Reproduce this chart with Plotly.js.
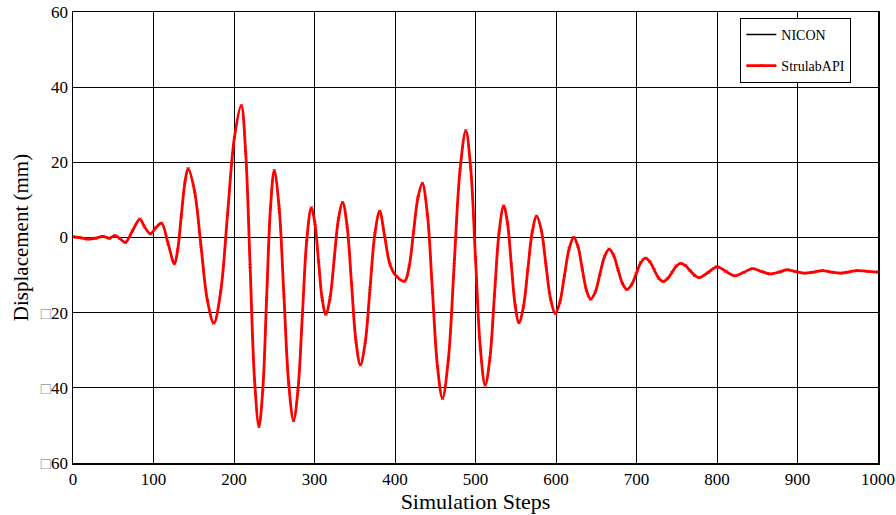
<!DOCTYPE html>
<html>
<head>
<meta charset="utf-8">
<script src="https://cdn.plot.ly/plotly-3.0.1.min.js"></script>
<style>html,body{margin:0;padding:0;background:#fff;}#chart{width:896px;height:515px;}</style>
</head>
<body>
<div id="chart"></div>
<script>
// Simulation step positions
const steps = [
  0,8,18,28,37,45,52,58,65,74,83,89,96,103,110,118,
  126,130,134.5,139,143,151,159,167,175,183.5,192,200.5,
  209,214.5,220,225.5,231,235.8,240.5,245.3,250,256,262,268,
  274,279.5,285,290.5,296,300.5,305,309.5,314,319.3,324.5,329.8,
  335,340.5,346,351.5,357,363,369,375,381,387,394,402,412,
  417.5,423,428.5,434,440.3,446.5,452.8,459,466.3,473.5,480.8,
  488,494,500,506,512,517.8,523.5,529.3,535,539.8,544.5,549.3,
  554,559.5,565,570.5,576,581.8,587.5,593.3,599,604.8,610.5,616.3,
  622,627.3,632.5,637.8,643,648.8,654.5,660.3,666,671.5,677,682.5,
  688,693.8,699.5,705.3,711,716.5,722,727.5,733,738.5,744,749.5,
  755,760.8,766.5,772.3,778,789,800,811,822,833,844,855,
  866,877,887,898,909,920,931,942,953,963,974,986,1000];
// NICON displacement (mm)
const nicon = [
  0.2,0.0,-0.4,-0.2,0.3,-0.2,0.5,-0.2,-1.3,1.8,4.9,2.8,1.0,2.6,3.8,-1.5,
  -7.0,-3.3,5.7,14.6,18.3,12.3,-2.3,-16.8,-22.8,-14.3,6.2,26.6,
  35.1,22.6,-7.6,-37.8,-50.3,-40.3,-16.3,7.8,17.8,8.1,-15.5,-39.0,
  -48.7,-40.4,-20.4,-0.4,7.9,3.8,-6.3,-16.3,-20.4,-16.1,-5.6,5.0,
  9.3,3.0,-12.3,-27.6,-33.9,-27.9,-13.5,1.0,7.0,0.5,-7.3,-10.4,-11.6,
  -7.8,1.4,10.6,14.4,6.0,-14.2,-34.4,-42.8,-32.4,-7.2,18.0,
  28.4,18.5,-5.5,-29.4,-39.3,-32.3,-15.5,1.4,8.4,3.8,-7.2,-18.1,
  -22.7,-18.5,-8.5,1.5,5.7,1.9,-7.3,-16.4,-20.2,-17.2,-10.1,-3.0,
  0.0,-2.4,-8.2,-14.0,-16.4,-14.5,-9.8,-5.1,-3.1,-4.7,-8.5,-12.2,
  -13.8,-12.6,-9.7,-6.7,-5.5,-6.4,-8.6,-10.8,-11.7,-11.0,-9.3,-7.6,
  -6.9,-7.5,-8.8,-10.1,-10.7,-9.3,-7.8,-9.0,-10.2,-9.3,-8.3,-9.0,
  -9.7,-9.2,-8.6,-9.1,-9.5,-9.2,-8.8,-9.2,-9.5,-9.2,-8.8,-9.0,-9.2];
// StrulabAPI displacement (mm) – overlaps NICON
const strulab = nicon.slice();
const xTicks = [0,100,200,300,400,500,600,700,800,900,1000];
const yTicks = [-60,-40,-20,0,20,40,60];
const yTickText = ['<span style="color:#999">\u25A1</span>60','<span style="color:#999">\u25A1</span>40','<span style="color:#999">\u25A1</span>20','0','20','40','60'];

const font = '"Liberation Serif", "Times New Roman", serif';
const traces = [
  {x: steps, y: nicon, name: 'NICON', legendgroup: 'a', mode: 'lines', type: 'scatter',
   line: {color: '#000', width: 1.5, shape: 'spline', smoothing: 1}},
  {x: steps, y: strulab, name: 'StrulabAPI', legendgroup: 'b', mode: 'lines+markers', type: 'scatter',
   line: {color: '#ff0000', width: 2.8, shape: 'spline', smoothing: 1},
   marker: {color: '#ff0000', size: 3, symbol: 'x-thin', line: {color: '#ff0000', width: 1}}}
];
const layout = {
  width: 896, height: 515,
  margin: {l: 73, r: 18, t: 12, b: 52},
  paper_bgcolor: '#fff', plot_bgcolor: '#fff',
  font: {family: font, color: '#000', size: 16},
  showlegend: true,
  legend: {x: 0.829, y: 0.987, xanchor: 'left', yanchor: 'top', bgcolor: '#fff',
           bordercolor: '#000', borderwidth: 1, font: {family: font, size: 14, color: '#000'},
           tracegroupgap: 10},
  xaxis: {range: [0, 1000], tickvals: xTicks, ticktext: xTicks.map(String),
          showgrid: true, gridcolor: '#000', gridwidth: 1, zeroline: false,
          showline: true, linecolor: '#000', linewidth: 1.5, mirror: true,
          ticks: '', tickfont: {family: font, size: 17, color: '#000'},
          title: {text: 'Simulation Steps', font: {family: font, size: 22, color: '#000'}, standoff: 4}},
  yaxis: {range: [-60, 60], tickvals: yTicks, ticktext: yTickText,
          showgrid: true, gridcolor: '#000', gridwidth: 1, zeroline: false,
          showline: true, linecolor: '#000', linewidth: 1.5, mirror: true,
          ticks: '', tickfont: {family: font, size: 17, color: '#000'},
          title: {text: 'Displacement (mm)', font: {family: font, size: 21, color: '#000'}, standoff: 6}}
};
Plotly.newPlot('chart', traces, layout, {displayModeBar: false, staticPlot: true});
</script>
</body>
</html>
